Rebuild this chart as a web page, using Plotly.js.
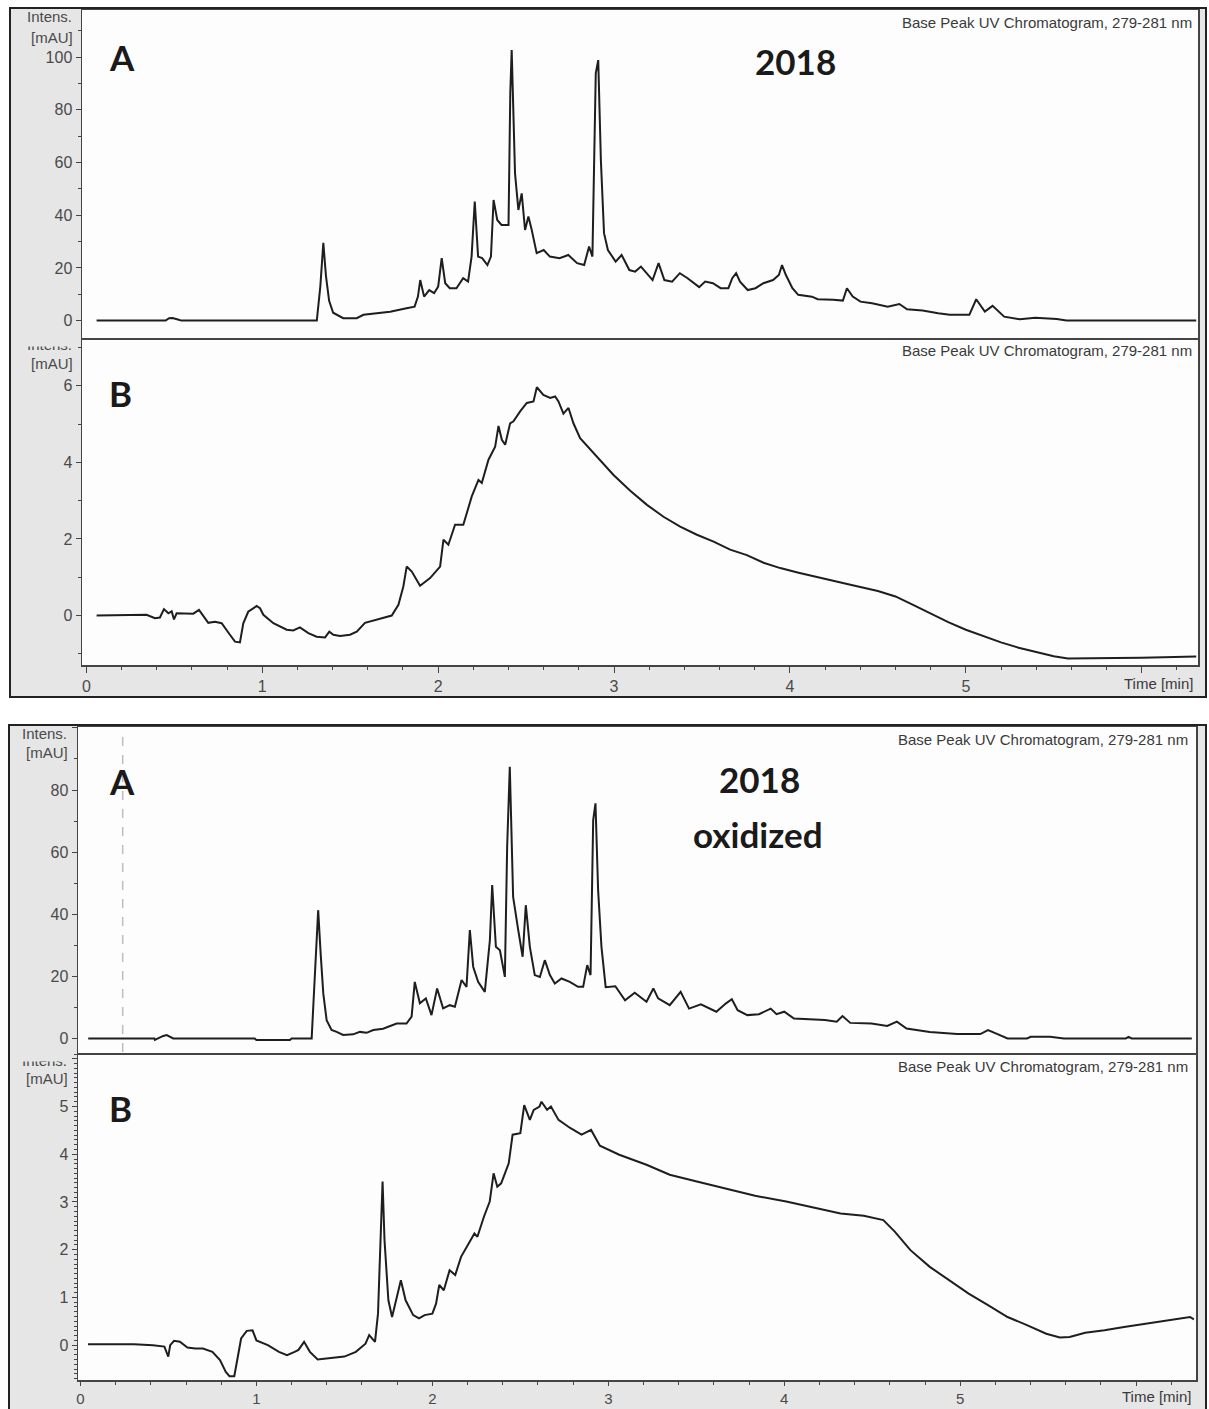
<!DOCTYPE html>
<html><head><meta charset="utf-8">
<script src="https://cdn.plot.ly/plotly-3.0.1.min.js"></script>
<style>html,body{margin:0;padding:0;background:#fff;}</style>
</head><body>
<div id="chart" style="width:1209px;height:1409px;"></div>
<script>
// ---------- DATA (time [min], intensity [mAU]) ----------
const timeTicks = [0, 1, 2, 3, 4, 5, 6];

// 2018 – panel A
const top2018A = [[0.058,0],[0.45,0],[0.47,0.9],[0.49,1],[0.52,0.4],[0.54,0],[1.31,0],[1.33,13],[1.347,29.5],[1.362,17],[1.38,7.5],[1.403,3],[1.46,0.9],[1.537,0.9],[1.575,2.2],[1.65,2.8],[1.727,3.4],[1.82,4.7],[1.866,5.3],[1.885,9.1],[1.898,15.4],[1.92,9.1],[1.949,11.6],[1.977,10.4],[2.0,12.9],[2.02,23.7],[2.04,14.2],[2.066,12.3],[2.104,12.3],[2.142,16.1],[2.17,14.8],[2.19,24.3],[2.208,45.2],[2.227,24.3],[2.25,23.7],[2.28,21.1],[2.3,24.3],[2.315,45.8],[2.336,38.2],[2.36,36.3],[2.4,36.3],[2.41,86.3],[2.418,102.7],[2.437,55.9],[2.456,42],[2.475,48.3],[2.494,34.4],[2.513,39.5],[2.532,34.4],[2.56,25.6],[2.6,26.8],[2.635,24.3],[2.69,23.7],[2.74,24.9],[2.79,21.8],[2.83,21.1],[2.858,28.1],[2.877,24.3],[2.896,93.9],[2.91,98.9],[2.925,61],[2.943,33.2],[2.965,26.8],[3.009,22.4],[3.043,24.9],[3.087,19.2],[3.12,18.6],[3.153,20.5],[3.219,15.4],[3.253,21.8],[3.286,15.4],[3.33,14.8],[3.374,18],[3.418,16.1],[3.484,12.7],[3.518,14.8],[3.562,14.2],[3.606,12.3],[3.65,12.3],[3.672,16.1],[3.694,18],[3.716,14.8],[3.76,11.6],[3.804,12.3],[3.849,14.2],[3.904,15.4],[3.937,17.3],[3.955,21.1],[3.977,17.3],[4.014,12.3],[4.047,9.8],[4.125,9.1],[4.158,8.1],[4.246,7.9],[4.301,7.6],[4.324,12.3],[4.357,9.1],[4.401,7.2],[4.467,6.6],[4.556,5.3],[4.622,6.3],[4.666,4.3],[4.754,3.8],[4.843,2.8],[4.909,2.2],[5.02,2.2],[5.059,8.1],[5.108,3.4],[5.152,5.6],[5.218,1.5],[5.307,0.5],[5.395,1.1],[5.461,0.9],[5.517,0.6],[5.572,0],[6.31,0]];

// 2018 – panel B
const top2018B = [[0.058,0],[0.342,0.02],[0.39,-0.07],[0.418,-0.05],[0.441,0.17],[0.466,0.06],[0.485,0.11],[0.498,-0.1],[0.513,0.06],[0.608,0.05],[0.64,0.15],[0.664,0.01],[0.693,-0.19],[0.731,-0.16],[0.769,-0.2],[0.816,-0.5],[0.845,-0.68],[0.873,-0.7],[0.892,-0.2],[0.92,0.1],[0.968,0.25],[0.987,0.19],[1.006,0.02],[1.063,-0.2],[1.139,-0.37],[1.176,-0.39],[1.214,-0.31],[1.262,-0.46],[1.309,-0.55],[1.357,-0.57],[1.381,-0.42],[1.404,-0.5],[1.442,-0.53],[1.499,-0.5],[1.537,-0.42],[1.584,-0.19],[1.651,-0.1],[1.736,0.0],[1.774,0.28],[1.802,0.76],[1.821,1.28],[1.85,1.15],[1.897,0.78],[1.954,0.98],[2.011,1.28],[2.03,1.98],[2.058,1.85],[2.096,2.37],[2.143,2.37],[2.191,3.11],[2.229,3.54],[2.248,3.46],[2.286,4.07],[2.324,4.41],[2.343,4.95],[2.362,4.59],[2.381,4.46],[2.409,5.02],[2.428,5.07],[2.466,5.33],[2.504,5.55],[2.542,5.59],[2.561,5.96],[2.598,5.76],[2.637,5.68],[2.665,5.72],[2.684,5.59],[2.712,5.27],[2.741,5.42],[2.769,5.02],[2.807,4.63],[2.902,4.15],[2.997,3.67],[3.092,3.26],[3.187,2.89],[3.281,2.58],[3.376,2.32],[3.471,2.11],[3.566,1.93],[3.66,1.72],[3.755,1.58],[3.85,1.38],[3.945,1.24],[4.049,1.12],[4.2,0.95],[4.35,0.8],[4.5,0.64],[4.6,0.5],[4.7,0.28],[4.8,0.05],[4.9,-0.17],[5.0,-0.37],[5.1,-0.54],[5.2,-0.7],[5.3,-0.84],[5.4,-0.96],[5.5,-1.06],[5.58,-1.12],[5.7,-1.12],[5.85,-1.11],[6.0,-1.1],[6.15,-1.09],[6.31,-1.07]];

// 2018 oxidized – panel A
const oxA = [[0.044,0],[0.42,0],[0.423,-0.5],[0.44,0],[0.47,0.8],[0.49,1.1],[0.51,0.6],[0.527,0],[0.99,0],[1.0,-0.5],[1.19,-0.5],[1.2,0],[1.314,0],[1.332,19],[1.351,41.3],[1.365,27.4],[1.38,14.5],[1.399,5.9],[1.427,2.7],[1.456,2.1],[1.493,1.1],[1.55,1.3],[1.588,2.1],[1.626,1.8],[1.664,2.7],[1.72,3.1],[1.797,4.8],[1.853,4.8],[1.882,7.0],[1.9,18.2],[1.929,11.3],[1.963,12.9],[1.995,7.5],[2.027,16.1],[2.061,9.7],[2.099,10.7],[2.128,10.2],[2.166,18.8],[2.194,16.6],[2.213,34.9],[2.232,23.1],[2.26,18.2],[2.298,15.0],[2.327,31.7],[2.34,49.4],[2.361,29.5],[2.384,28.4],[2.412,19.8],[2.425,61.7],[2.44,87.5],[2.459,45.6],[2.488,34.9],[2.513,26.3],[2.531,42.9],[2.554,29.5],[2.582,20.4],[2.611,19.8],[2.639,25.2],[2.668,20.4],[2.696,17.7],[2.734,19.3],[2.781,18.2],[2.828,16.6],[2.857,16.6],[2.88,23.6],[2.899,20.4],[2.914,70.3],[2.927,75.7],[2.942,47.8],[2.961,29.5],[2.985,16.5],[3.04,16.8],[3.095,12.3],[3.15,14.7],[3.217,11.8],[3.256,16.1],[3.283,12.9],[3.349,10.7],[3.411,15.0],[3.459,9.6],[3.526,11.0],[3.614,8.6],[3.669,11.3],[3.702,12.6],[3.735,9.1],[3.79,7.5],[3.856,7.8],[3.923,9.6],[3.956,7.8],[4.0,8.6],[4.055,6.4],[4.231,5.9],[4.298,5.4],[4.331,7.2],[4.375,5.0],[4.496,4.8],[4.585,4.0],[4.64,5.4],[4.695,3.2],[4.827,2.1],[4.982,1.4],[5.114,1.4],[5.158,2.7],[5.202,1.6],[5.269,0],[5.379,0],[5.401,0.5],[5.511,0.5],[5.589,0],[5.941,0],[5.957,0.5],[5.974,0],[6.316,0]];

// 2018 oxidized – panel B
const oxB = [[0.043,0.02],[0.304,0.02],[0.412,0],[0.477,-0.03],[0.499,-0.24],[0.51,0],[0.532,0.09],[0.565,0.07],[0.608,-0.05],[0.652,-0.07],[0.696,-0.07],[0.75,-0.14],[0.793,-0.31],[0.826,-0.56],[0.847,-0.65],[0.874,-0.65],[0.891,-0.31],[0.913,0.14],[0.945,0.3],[0.978,0.31],[1.0,0.1],[1.065,0],[1.128,-0.14],[1.174,-0.21],[1.217,-0.14],[1.239,-0.1],[1.271,0.07],[1.304,-0.14],[1.348,-0.3],[1.413,-0.28],[1.5,-0.24],[1.565,-0.14],[1.62,0.03],[1.641,0.21],[1.674,0.07],[1.691,0.66],[1.706,2.2],[1.717,3.43],[1.728,2.2],[1.75,0.94],[1.771,0.59],[1.804,1.08],[1.821,1.36],[1.848,0.94],[1.891,0.63],[1.924,0.56],[1.956,0.63],[2.0,0.66],[2.021,0.87],[2.039,1.26],[2.065,1.15],[2.098,1.57],[2.13,1.47],[2.163,1.85],[2.206,2.13],[2.239,2.34],[2.256,2.27],[2.293,2.69],[2.326,3.01],[2.348,3.6],[2.369,3.32],[2.391,3.39],[2.434,3.81],[2.456,4.41],[2.5,4.44],[2.522,5.03],[2.554,4.72],[2.576,4.93],[2.609,5.0],[2.62,5.1],[2.652,4.93],[2.674,5.0],[2.717,4.72],[2.783,4.55],[2.848,4.41],[2.902,4.51],[2.952,4.18],[3.062,3.99],[3.217,3.78],[3.349,3.57],[3.503,3.43],[3.658,3.29],[3.834,3.13],[4.011,3.01],[4.188,2.87],[4.32,2.76],[4.452,2.71],[4.563,2.62],[4.628,2.38],[4.717,1.99],[4.827,1.64],[4.938,1.36],[5.048,1.08],[5.158,0.84],[5.269,0.59],[5.379,0.42],[5.489,0.24],[5.566,0.16],[5.622,0.17],[5.71,0.26],[5.82,0.31],[5.931,0.38],[6.041,0.44],[6.151,0.5],[6.261,0.56],[6.306,0.59],[6.328,0.54]];

const panelLabels = ['A', 'B', 'A', 'B'];
const sampleTitles = ['2018', '2018', 'oxidized'];
const traceTitle = 'Base Peak UV Chromatogram, 279-281 nm';
const markerTime = [0.24];

// ---------- LAYOUT HELPERS ----------
const W = 1209, H = 1409;
const PX = v => v / W;
const PY = v => 1 - v / H;

const lineCol = '#1e1e1e';
const axCol = '#444';
const txtCol = '#4a4a4a';
const tickFont = {family: 'Liberation Sans, Arial, sans-serif', size: 16, color: txtCol};
const tickFontSm = {family: 'Liberation Sans, Arial, sans-serif', size: 15, color: txtCol};
const smallFont = {family: 'Liberation Sans, Arial, sans-serif', size: 15, color: '#3a3a3a'};
const bigFont = {family: 'Lato, Carlito, Open Sans, sans-serif', size: 35, color: '#1a1a1a', weight: 700};

function mk(series, xa, ya) {
  return {x: series.map(p => p[0]), y: series.map(p => p[1]), xaxis: xa, yaxis: ya,
    type: 'scatter', mode: 'lines', line: {color: lineCol, width: 2}, hoverinfo: 'skip'};
}
const data = [mk(top2018A, 'x', 'y'), mk(top2018B, 'x2', 'y2'), mk(oxA, 'x3', 'y3'), mk(oxB, 'x4', 'y4')];

function xax(dom, range, anchor, labels, font, tlen) {
  const a = {domain: dom, range: range, anchor: anchor, showline: true, mirror: true, linecolor: axCol, linewidth: 1.5,
    zeroline: false, showgrid: false, fixedrange: true};
  if (labels) {
    Object.assign(a, {tickmode: 'linear', tick0: 0, dtick: 1, ticks: 'outside', ticklen: tlen, tickcolor: axCol, tickwidth: 1,
      tickfont: font, labelalias: {'6': ' '},
      minor: {tick0: 0, dtick: 0.2, ticks: 'outside', ticklen: 3, tickcolor: axCol, showgrid: false}});
  } else {
    Object.assign(a, {showticklabels: false, ticks: ''});
  }
  return a;
}
function yax(dom, range, anchor, dtick, mdtick, alias) {
  return {domain: dom, range: range, anchor: anchor, showline: true, mirror: true, linecolor: axCol, linewidth: 1.5,
    zeroline: false, showgrid: false, fixedrange: true, tickmode: 'linear', tick0: 0, dtick: dtick,
    ticks: 'outside', ticklen: 5, tickcolor: axCol, tickwidth: 1, tickfont: tickFont, labelalias: alias || {},
    minor: {tick0: 0, dtick: mdtick, ticks: 'outside', ticklen: 3, tickcolor: axCol, showgrid: false}};
}

const xd1 = [PX(82), PX(1198)], xd2 = [PX(78), PX(1196)];
const xr1 = [-0.025, 6.32], xr2 = [-0.014, 6.34];

const shapes = [
  {type: 'rect', xref: 'paper', yref: 'paper', x0: PX(10), x1: PX(1206), y0: PY(697), y1: PY(8),
   fillcolor: '#e6e6e6', line: {color: '#222', width: 2}, layer: 'below'},
  {type: 'rect', xref: 'paper', yref: 'paper', x0: PX(9), x1: PX(1206), y0: PY(1415), y1: PY(725),
   fillcolor: '#e6e6e6', line: {color: '#222', width: 2}, layer: 'below'},
  {type: 'rect', xref: 'paper', yref: 'paper', x0: xd1[0], x1: xd1[1], y0: PY(665), y1: PY(10),
   fillcolor: '#fdfdfd', line: {width: 0}, layer: 'below'},
  {type: 'rect', xref: 'paper', yref: 'paper', x0: xd2[0], x1: xd2[1], y0: PY(1380), y1: PY(727),
   fillcolor: '#fdfdfd', line: {width: 0}, layer: 'below'},
  {type: 'line', xref: 'x3', yref: 'paper', x0: markerTime[0], x1: markerTime[0], y0: PY(1052), y1: PY(728),
   line: {color: '#bdbdbd', width: 1.5, dash: 'dash'}, layer: 'below'}
];

function ann(text, x, y, font, xanchor) {
  return {text: text, xref: 'paper', yref: 'paper', x: PX(x), y: PY(y), xanchor: xanchor || 'center', yanchor: 'middle',
    showarrow: false, font: font};
}
const labFont = {family: 'Liberation Sans, Arial, sans-serif', size: 15, color: txtCol};
const annotations = [
  ann(traceTitle, 1194, 22, smallFont, 'right'),
  ann(traceTitle, 1194, 350, smallFont, 'right'),
  ann(traceTitle, 1190, 739, smallFont, 'right'),
  ann(traceTitle, 1190, 1066, smallFont, 'right'),
  ann('Intens.', 74, 17, labFont, 'right'),
  ann('[mAU]', 75, 37, labFont, 'right'),
  ann('Intens.', 74, 345, labFont, 'right'),
  ann('[mAU]', 75, 363, labFont, 'right'),
  ann('Intens.', 69, 733, labFont, 'right'),
  ann('[mAU]', 70, 752, labFont, 'right'),
  ann('Intens.', 69, 1060, labFont, 'right'),
  ann('[mAU]', 70, 1078, labFont, 'right'),
  // covers that clip the upper half of the "Intens." in the lower panels
  {text: ' ', xref: 'paper', yref: 'paper', x: PX(74), y: PY(339), xanchor: 'right', yanchor: 'top', showarrow: false,
   width: 60, height: 6, bgcolor: '#e6e6e6', borderpad: 0, font: {size: 4}},
  {text: ' ', xref: 'paper', yref: 'paper', x: PX(70), y: PY(1054), xanchor: 'right', yanchor: 'top', showarrow: false,
   width: 58, height: 6, bgcolor: '#e6e6e6', borderpad: 0, font: {size: 4}},
  ann(panelLabels[0], 122, 57, bigFont),
  ann(panelLabels[1], 120, 393, bigFont),
  ann(panelLabels[2], 122, 781, bigFont),
  ann(panelLabels[3], 120, 1108, bigFont),
  ann(sampleTitles[0], 795, 61, bigFont),
  ann(sampleTitles[1], 759, 779, bigFont),
  ann(sampleTitles[2], 758, 834, bigFont),
  ann('Time [min]', 1195, 683, smallFont, 'right'),
  ann('Time [min]', 1193, 1396, smallFont, 'right')
];

const layout = {
  width: W, height: H, margin: {l: 0, r: 0, t: 0, b: 0, pad: 0},
  paper_bgcolor: '#ffffff', plot_bgcolor: 'rgba(0,0,0,0)', showlegend: false,
  xaxis: xax(xd1, xr1, 'y', false),
  yaxis: yax([PY(338), PY(10)], [-6.6, 117.9], 'x', 20, 10),
  xaxis2: xax(xd1, xr1, 'y2', true, tickFont, 6),
  yaxis2: yax([PY(665), PY(339)], [-1.29, 7.22], 'x2', 2, 1),
  xaxis3: xax(xd2, xr2, 'y3', false),
  yaxis3: yax([PY(1053), PY(727)], [-4.7, 100.3], 'x3', 20, 10, {'100': ' '}),
  xaxis4: xax(xd2, xr2, 'y4', true, tickFontSm, 4),
  yaxis4: yax([PY(1380), PY(1054)], [-0.73, 6.1], 'x4', 1, 0.1, {'6': ' '}),
  shapes: shapes,
  annotations: annotations
};

Plotly.newPlot('chart', data, layout, {staticPlot: true, displayModeBar: false});
</script>
</body></html>
